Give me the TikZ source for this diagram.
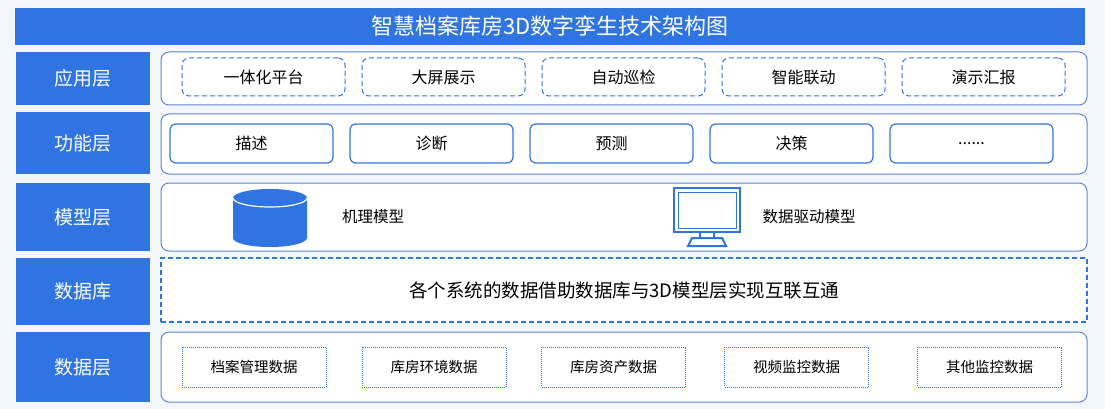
\documentclass[tikz,border=0pt]{standalone}
\usepackage{fontspec}
\setmainfont{Noto Sans CJK SC}
\definecolor{bl}{HTML}{2F74E0}
\definecolor{pb}{HTML}{5C85D4}
\definecolor{bg}{HTML}{F3F6FB}
\begin{document}
\begin{tikzpicture}[x=1pt,y=-1pt,
 lab/.style={fill=bl,text=white,font=\fontsize{19}{19}\selectfont},
 panel/.style={draw=pb,line width=1pt,rounded corners=8pt,fill=white},
 dbox/.style={draw=bl,dash pattern=on 5pt off 3pt,line width=1pt,rounded corners=7pt,font=\fontsize{16}{16}\selectfont},
 sbox/.style={draw=bl,line width=1.2pt,rounded corners=6pt,font=\fontsize{16}{16}\selectfont},
 obox/.style={draw=bl,densely dotted,line width=1pt,font=\fontsize{14.5}{14.5}\selectfont},
 txt/.style={font=\fontsize{15.5}{15.5}\selectfont}]
\fill[bg] (0,0) rectangle (1105,409);
\useasboundingbox (0,0) rectangle (1105,409);
\node[fill=bl,text=white,font=\fontsize{22}{22}\selectfont,minimum width=1070pt,minimum height=37pt] (title) at (550,26.5) {智慧档案库房3D数字孪生技术架构图};
% labels
\node[lab,minimum width=134pt,minimum height=53pt] (l1) at (83,78.5) {应用层};
\node[lab,minimum width=134pt,minimum height=62pt] (l2) at (83,143) {功能层};
\node[lab,minimum width=134pt,minimum height=68pt] (l3) at (83,217) {模型层};
\node[lab,minimum width=134pt,minimum height=67pt] (l4) at (83,291.5) {数据库};
\node[lab,minimum width=134pt,minimum height=70pt] (l5) at (83,367) {数据层};
% panels
\node[panel,minimum width=926pt,minimum height=53pt] (p1) at (624,78.5) {};
\node[panel,minimum width=926pt,minimum height=60pt] (p2) at (624,144) {};
\node[panel,minimum width=926pt,minimum height=68pt] (p3) at (624,217) {};
\node[draw=bl,dash pattern=on 5pt off 3pt,line width=1.6pt,fill=white,minimum width=926pt,minimum height=64pt,font=\fontsize{18.5}{18.5}\selectfont] (p4) at (624,290) {各个系统的数据借助数据库与3D模型层实现互联互通};
\node[panel,minimum width=926pt,minimum height=70pt] (p5) at (624,367) {};
% row1
\foreach \x/\t [count=\i] in {263.5/一体化平台,443.5/大屏展示,623.5/自动巡检,803.5/智能联动,983.5/演示汇报}
 \node[dbox,minimum width=163pt,minimum height=38pt] (a\i) at (\x,77) {\t};
% row2
\foreach \x/\t [count=\i] in {251.5/描述,431.5/诊断,611.5/预测,791.5/决策,971.5/{......}}
 \node[sbox,minimum width=163pt,minimum height=39pt] (f\i) at (\x,143.5) {\t};
% row3 cylinder
\fill[bl] (233,198) -- (233,238) arc[start angle=180,end angle=360,x radius=37,y radius=-9] -- (307,198) arc[start angle=0,end angle=180,x radius=37,y radius=-9] -- cycle;
\draw[white,line width=1.2pt] (233,198) arc[start angle=180,end angle=360,x radius=37,y radius=-9];
\node[txt] (m1) at (373,217) {机理模型};
\node[draw=bl,line width=2pt,minimum width=66pt,minimum height=44pt] (mon) at (707,210) {};
\node[draw=bl,line width=1pt,minimum width=58pt,minimum height=36pt] (scr) at (mon.center) {};
\draw[bl,line width=2pt] (700,232) -- (700,238) (714,232) -- (714,238) (688,246) -- (692,238) -- (722,238) -- (726,246) -- cycle;
\node[txt] (m2) at (809,217) {数据驱动模型};
% row5
\foreach \x/\t [count=\i] in {254/档案管理数据,434/库房环境数据,613.5/库房资产数据,796.5/视频监控数据,989.5/其他监控数据}
 \node[obox,minimum width=144pt,minimum height=40pt] (d\i) at (\x,367) {\t};
\end{tikzpicture}
\end{document}
